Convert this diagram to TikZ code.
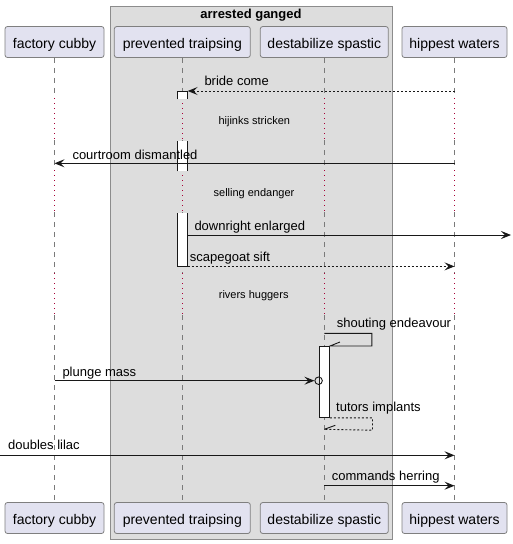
\documentclass[tikz,border=0pt]{standalone}
\usepackage{fontspec}
\setmainfont{Liberation Sans}
\usetikzlibrary{arrows.meta}
\definecolor{partfill}{HTML}{E2E2F0}
\definecolor{partedge}{HTML}{7F7F7F}
\definecolor{grpfill}{HTML}{DDDDDD}
\definecolor{grpedge}{HTML}{8C8C8C}
\definecolor{lifegray}{HTML}{7A7A7A}
\definecolor{delayred}{HTML}{A80036}
\definecolor{ink}{HTML}{181818}
\begin{document}
\begin{tikzpicture}[x=1pt,y=-1pt,
    part/.style={draw=partedge,fill=partfill,line width=0.8pt,rounded corners=2.5pt,minimum height=31pt,inner sep=0pt,text height=12.5pt,text depth=0pt,font=\fontsize{14}{16}\selectfont},
    life/.style={draw=lifegray,line width=0.8pt,dash pattern=on 5pt off 5pt},
    delay/.style={draw=delayred,line width=0.8pt,dash pattern=on 1pt off 4pt},
    bar/.style={fill=white,minimum width=10pt,inner sep=0pt,anchor=north},
    msg/.style={draw=ink,line width=0.9pt},
    tip/.style={-{Stealth[length=10pt,width=8pt,inset=4pt]}},
    ret/.style={dash pattern=on 2pt off 2pt},
    lab/.style={anchor=base west,inner sep=0pt,font=\fontsize{13}{15}\selectfont},
    dlab/.style={anchor=base,inner sep=0pt,font=\fontsize{11}{13}\selectfont}]
  \useasboundingbox (0,0) rectangle (512,544);
  % group box
  \draw[draw=grpedge,fill=grpfill,line width=0.8pt] (110.3,6) rectangle (392.3,539);
  \node[anchor=base,inner sep=0pt,font=\bfseries\fontsize{13}{15}\selectfont] (grpT) at (251,18.3) {arrested ganged};
  % participants
  \node[part,minimum width=99pt] (fcTop) at (54.5,42) {factory cubby};
  \node[part,minimum width=136pt] (ptTop) at (182.3,42) {prevented traipsing};
  \node[part,minimum width=128pt] (dsTop) at (324.3,42) {destabilize spastic};
  \node[part,minimum width=105pt] (hwTop) at (454.5,42) {hippest waters};
  \node[part,minimum width=99pt] (fcBot) at (54.5,518) {factory cubby};
  \node[part,minimum width=136pt] (ptBot) at (182.3,518) {prevented traipsing};
  \node[part,minimum width=128pt] (dsBot) at (324.3,518) {destabilize spastic};
  \node[part,minimum width=105pt] (hwBot) at (454.5,518) {hippest waters};
  % delays
  \coordinate (d1a) at (0,98);  \coordinate (d1b) at (0,140);
  \coordinate (d2a) at (0,170); \coordinate (d2b) at (0,212);
  \coordinate (d3a) at (0,273); \coordinate (d3b) at (0,315);
  \foreach \p in {fc,pt,ds,hw} {
    \draw[life] (\p Top.south) -- (\p Top.south |- d1a) (\p Top.south |- d1b) -- (\p Top.south |- d2a)
      (\p Top.south |- d2b) -- (\p Top.south |- d3a) (\p Top.south |- d3b) -- (\p Bot.north);
    \draw[delay] (\p Top.south |- d1a) -- (\p Top.south |- d1b) (\p Top.south |- d2a) -- (\p Top.south |- d2b)
      (\p Top.south |- d3a) -- (\p Top.south |- d3b);
  }
  \node[dlab] (dl1) at (254.3,124.3) {hijinks stricken};
  \node[dlab] (dl2) at (254,196.7) {selling endanger};
  \node[dlab] (dl3) at (253.7,298.7) {rivers huggers};
  % activations
  \node[bar,minimum height=8pt] (bar1) at (182.5,91) {};
  \draw[msg] (bar1.south west) -- (bar1.north west) -- (bar1.north east) -- (bar1.south east);
  \node[bar,minimum height=30pt] (bar2) at (182.5,141) {};
  \draw[msg] (bar2.south west) -- (bar2.north west) (bar2.north east) -- (bar2.south east);
  \node[bar,minimum height=53pt] (bar3) at (182.5,213) {};
  \draw[msg] (bar3.north west) -- (bar3.south west) -- (bar3.south east) -- (bar3.north east);
  \node[bar,draw=ink,line width=0.9pt,minimum height=71pt] (barD) at (324.5,346) {};
  % messages
  \draw[msg,ret,tip] (hwTop.south |- bar1.north) -- (bar1.north east);
  \node[lab] (m1) at (204.3,85.7) {bride come};
  \coordinate (r2) at (0,163.3);
  \draw[msg,tip] (hwTop.south |- r2) -- (fcTop.south |- r2);
  \node[lab] (m2) at (72.3,159.3) {courtroom dismantled};
  \coordinate (rgt) at (511,235);
  \draw[msg,tip] (bar3.east |- rgt) -- (rgt);
  \node[lab] (m3) at (194.3,230.7) {downright enlarged};
  \draw[msg,ret,tip] (bar3.south east) -- (hwTop.south |- bar3.south);
  \node[lab] (m4) at (189.7,261) {scapegoat sift};
  \coordinate (r5) at (0,333.3);
  \draw[msg] (dsTop.south |- r5) -- ++(47.5,0) -- ++(0,12.7) -- (barD.north east) -- ++(10,-4);
  \node[lab] (m5) at (336.7,327.7) {shouting endeavour};
  \node[circle,draw=ink,line width=0.9pt,minimum size=7.5pt,inner sep=0pt] (plg) at (318.6,380.7) {};
  \draw[msg,tip] (fcTop.south |- plg) -- (plg.west);
  \node[lab] (m6) at (62.3,376.7) {plunge mass};
  \coordinate (r7) at (0,429.3);
  \draw[msg,ret] (barD.south east) -- ++(42.5,0) -- ++(0,12.3) -- (dsTop.south |- r7);
  \draw[msg] (dsTop.south |- r7) -- ++(11,-4);
  \node[lab] (m7) at (336,411.7) {tutors implants};
  \coordinate (lft) at (0,455.3);
  \draw[msg,tip] (lft) -- (hwTop.south |- lft);
  \node[lab] (m8) at (8,449.3) {doubles lilac};
  \coordinate (r9) at (0,485.7);
  \draw[msg,tip] (dsTop.south |- r9) -- (hwTop.south |- r9);
  \node[lab] (m9) at (331.7,480.7) {commands herring};
\end{tikzpicture}
\end{document}
